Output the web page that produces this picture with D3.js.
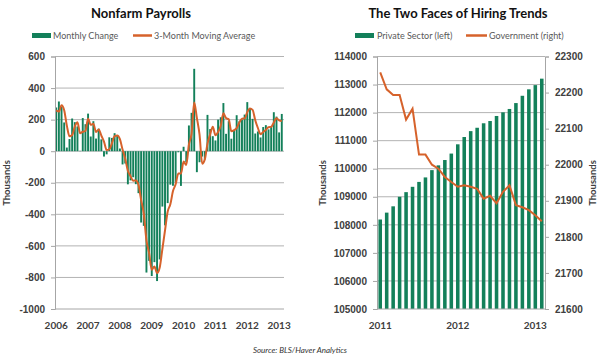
<!DOCTYPE html>
<html><head><meta charset="utf-8">
<script src="https://cdn.jsdelivr.net/npm/d3@7"></script>
<style>
body{margin:0;background:#fff;}
svg{display:block;font-family:Lato,"Open Sans",sans-serif;}
</style></head><body>
<svg id="c" width="600" height="360"></svg>
<script>
// ---- Data: Nonfarm payrolls monthly change (thousands) ----
const years = [2006, 2007, 2008, 2009, 2010, 2011, 2012, 2013];
const change2006 = [277, 315, 280, 182, 23, 77, 207, 184, 157, 2, 210, 171];
const change2007 = [238, 93, 190, 80, 143, 75, -34, -20, 88, 84, 114, 98];
const change2008 = [17, -84, -78, -210, -185, -165, -209, -266, -452, -473, -769, -695];
const change2009 = [-791, -703, -823, -686, -351, -470, -329, -212, -219, -200, -7, -220];
const change2010 = [28, -69, 163, 243, 522, -133, -70, -34, -52, 230, 140, 95];
const change2011 = [68, 200, 215, 305, 110, 190, 79, 130, 228, 189, 200, 232];
const change2012 = [311, 271, 205, 112, 125, 87, 153, 165, 138, 160, 247, 219];
const change2013 = [119, 236];
// 3-month moving average
const ma2006 = [258, 251, 291, 259, 162, 94, 102, 156, 183, 114, 123, 128];
const ma2007 = [206, 167, 174, 121, 138, 99, 61, 7, 11, 51, 95, 99];
const ma2008 = [76, 10, -48, -124, -158, -187, -186, -213, -309, -397, -565, -646];
const ma2009 = [-752, -730, -772, -737, -620, -502, -383, -337, -253, -210, -142, -142];
const ma2010 = [-66, -87, 41, 112, 309, 211, 106, -79, -52, 48, 106, 155];
const ma2011 = [101, 121, 161, 240, 210, 202, 126, 133, 146, 182, 206, 207];
const ma2012 = [248, 271, 262, 196, 147, 108, 122, 135, 152, 154, 182, 209];
const ma2013 = [195, 191];
const payTicks = [-1000, -800, -600, -400, -200, 0, 200, 400, 600];

// ---- Data: Two faces of hiring (Jan 2011 - Feb 2013, thousands) ----
const hireYears = [2011, 2012, 2013];
const private2011 = [108190, 108435, 108660, 109000, 109165, 109355, 109530, 109690, 109950, 110120, 110310, 110540];
const private2012 = [110870, 111130, 111340, 111460, 111620, 111700, 111880, 112010, 112130, 112340, 112600, 112830];
const private2013 = [112980, 113210];
const gov2011 = [22256, 22209, 22193, 22193, 22125, 22155, 22028, 22028, 22000, 21989, 21966, 21952];
const gov2012 = [21939, 21943, 21939, 21933, 21906, 21914, 21893, 21925, 21943, 21888, 21882, 21874];
const gov2013 = [21860, 21843];
const privTicks = [105000, 106000, 107000, 108000, 109000, 110000, 111000, 112000, 113000, 114000];
const govTicks = [21600, 21700, 21800, 21900, 22000, 22100, 22200, 22300];

const GREEN = "#13805a", ORANGE = "#d6622b", GRID = "#b3b3b3", AXIS = "#a6a6a6", TXT = "#404040";

// build tables
const changes = [change2006, change2007, change2008, change2009, change2010, change2011, change2012, change2013];
const mas = [ma2006, ma2007, ma2008, ma2009, ma2010, ma2011, ma2012, ma2013];
const pay = [];
years.forEach((y, yi) => changes[yi].forEach((v, m) => pay.push({key: y + "-" + (m + 1), year: y, m: m, v: v, ma: mas[yi][m]})));
const privs = [private2011, private2012, private2013], govs = [gov2011, gov2012, gov2013];
const hire = [];
hireYears.forEach((y, yi) => privs[yi].forEach((v, m) => hire.push({key: y + "-" + (m + 1), year: y, m: m, p: v, g: govs[yi][m]})));

const svg = d3.select("#c");
const plotTop = 56.5, plotBottom = 309;
const fmt = d => String(d);

function styleAxis(g) {
  g.select(".domain").attr("stroke", AXIS);
  g.selectAll(".tick line").attr("stroke", AXIS);
  g.selectAll(".tick text").attr("fill", TXT).attr("font-size", 10).attr("font-weight", "bold");
}

// ===== Left chart =====
const xL = d3.scaleBand().domain(pay.map(d => d.key)).range([55, 283]).paddingInner(0.28).paddingOuter(0.1);
const yL = d3.scaleLinear().domain([-1000, 600]).range([plotBottom, plotTop]);
const gL = svg.append("g");
gL.selectAll("line.grid").data(payTicks.filter(t => t > -1000)).join("line")
  .attr("x1", 55).attr("x2", 284).attr("y1", d => yL(d)).attr("y2", d => yL(d))
  .attr("stroke", GRID).attr("stroke-width", 1);
gL.selectAll("rect.bar").data(pay).join("rect")
  .attr("x", d => xL(d.key)).attr("width", xL.bandwidth())
  .attr("y", d => yL(Math.max(0, d.v))).attr("height", d => Math.abs(yL(d.v) - yL(0)))
  .attr("fill", GREEN);
gL.append("path").datum(pay)
  .attr("d", d3.line().x(d => xL(d.key) + xL.bandwidth() / 2).y(d => yL(d.ma)).curve(d3.curveMonotoneX))
  .attr("fill", "none").attr("stroke", ORANGE).attr("stroke-width", 2);
const axL = gL.append("g").attr("transform", "translate(55,0)")
  .call(d3.axisLeft(yL).tickValues(payTicks).tickSize(4).tickPadding(6).tickFormat(fmt));
styleAxis(axL);
gL.append("line").attr("x1", 55).attr("x2", 284).attr("y1", plotBottom).attr("y2", plotBottom).attr("stroke", AXIS);
gL.selectAll("text.xl").data(years).join("text")
  .attr("x", y => xL(y + "-1") + xL.bandwidth() / 2).attr("y", 329)
  .attr("text-anchor", "middle").attr("font-size", 10).attr("font-weight", "bold").attr("fill", TXT).text(y => y);
gL.append("text").attr("transform", "translate(10,183) rotate(-90)").attr("text-anchor", "middle")
  .attr("font-size", 9.5).attr("font-weight", "bold").attr("fill", TXT).text("Thousands");
gL.append("text").attr("x", 141).attr("y", 18).attr("text-anchor", "middle")
  .attr("font-size", 13).attr("font-weight", "bold").attr("fill", "#111").text("Nonfarm Payrolls");
gL.append("rect").attr("x", 32).attr("y", 33).attr("width", 19).attr("height", 5).attr("fill", GREEN);
gL.append("text").attr("x", 53).attr("y", 38.5).attr("font-size", 9).attr("fill", "#595959").text("Monthly Change");
gL.append("line").attr("x1", 133).attr("x2", 152).attr("y1", 35.5).attr("y2", 35.5).attr("stroke", ORANGE).attr("stroke-width", 2.5);
gL.append("text").attr("x", 154).attr("y", 38.5).attr("font-size", 9).attr("fill", "#595959").text("3-Month Moving Average");

// ===== Right chart =====
const xR = d3.scaleBand().domain(hire.map(d => d.key)).range([377, 545]).paddingInner(0.45).paddingOuter(0.225);
const yP = d3.scaleLinear().domain([105000, 114000]).range([plotBottom, plotTop]);
const yG = d3.scaleLinear().domain([21600, 22300]).range([plotBottom, plotTop]);
const gR = svg.append("g");
gR.selectAll("line.grid").data(privTicks.filter(t => t > 105000)).join("line")
  .attr("x1", 377).attr("x2", 545).attr("y1", d => yP(d)).attr("y2", d => yP(d))
  .attr("stroke", GRID).attr("stroke-width", 1);
gR.selectAll("rect.bar").data(hire).join("rect")
  .attr("x", d => xR(d.key)).attr("width", xR.bandwidth())
  .attr("y", d => yP(d.p)).attr("height", d => yP(105000) - yP(d.p))
  .attr("fill", GREEN);
gR.append("path").datum(hire)
  .attr("d", d3.line().x(d => xR(d.key) + xR.bandwidth() / 2).y(d => yG(d.g)))
  .attr("fill", "none").attr("stroke", ORANGE).attr("stroke-width", 2);
const axP = gR.append("g").attr("transform", "translate(377,0)")
  .call(d3.axisLeft(yP).tickValues(privTicks).tickSize(4).tickPadding(6).tickFormat(fmt));
styleAxis(axP);
const axG = gR.append("g").attr("transform", "translate(545,0)")
  .call(d3.axisRight(yG).tickValues(govTicks).tickSize(4).tickPadding(6).tickFormat(fmt));
styleAxis(axG);
gR.append("line").attr("x1", 377).attr("x2", 545).attr("y1", plotBottom).attr("y2", plotBottom).attr("stroke", AXIS);
gR.selectAll("text.xl").data(hireYears).join("text")
  .attr("x", y => xR(y + "-1") + xR.bandwidth() / 2).attr("y", 329)
  .attr("text-anchor", "middle").attr("font-size", 10).attr("font-weight", "bold").attr("fill", TXT).text(y => y);
gR.append("text").attr("transform", "translate(326,183) rotate(-90)").attr("text-anchor", "middle")
  .attr("font-size", 9.5).attr("font-weight", "bold").attr("fill", TXT).text("Thousands");
gR.append("text").attr("transform", "translate(596,183) rotate(-90)").attr("text-anchor", "middle")
  .attr("font-size", 9.5).attr("font-weight", "bold").attr("fill", TXT).text("Thousands");
gR.append("text").attr("x", 458).attr("y", 18).attr("text-anchor", "middle")
  .attr("font-size", 13).attr("font-weight", "bold").attr("fill", "#111").text("The Two Faces of Hiring Trends");
gR.append("rect").attr("x", 355).attr("y", 33).attr("width", 19).attr("height", 5).attr("fill", GREEN);
gR.append("text").attr("x", 377).attr("y", 38.5).attr("font-size", 9).attr("fill", "#595959").text("Private Sector (left)");
gR.append("line").attr("x1", 466).attr("x2", 487).attr("y1", 35.5).attr("y2", 35.5).attr("stroke", ORANGE).attr("stroke-width", 2.5);
gR.append("text").attr("x", 489).attr("y", 38.5).attr("font-size", 9).attr("fill", "#595959").text("Government (right)");

svg.append("text").attr("x", 300).attr("y", 353).attr("text-anchor", "middle")
  .attr("font-size", 8).attr("font-style", "italic").attr("fill", "#333").text("Source: BLS/Haver Analytics");
</script></body></html>
